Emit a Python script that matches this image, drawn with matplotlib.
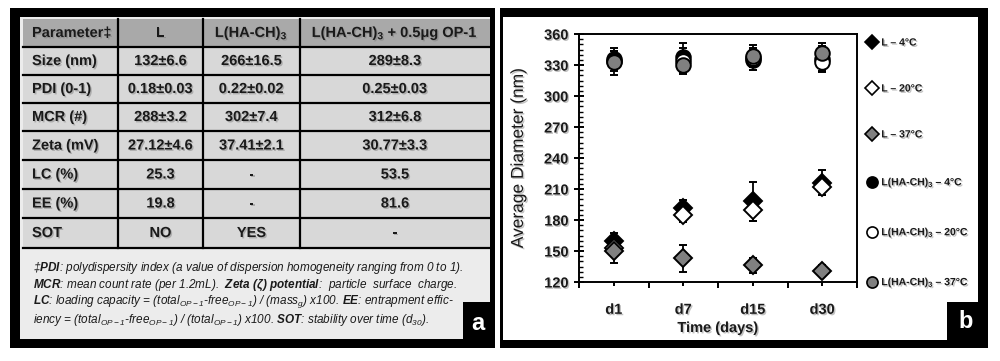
import matplotlib
matplotlib.use("Agg")
import matplotlib.pyplot as plt
from matplotlib.patches import Rectangle
from matplotlib.lines import Line2D
from matplotlib import font_manager
import matplotlib.ticker as mticker
import matplotlib.patheffects as pe

names = {f.name for f in font_manager.fontManager.ttflist}
SANS = 'Liberation Sans'
NARROW = 'Liberation Sans Narrow' if 'Liberation Sans Narrow' in names else SANS

plt.rcParams['font.family'] = [SANS, 'DejaVu Sans']
plt.rcParams['mathtext.fontset'] = 'custom'
plt.rcParams['mathtext.rm'] = SANS + ':bold'
plt.rcParams['mathtext.it'] = SANS + ':italic'
plt.rcParams['mathtext.bf'] = SANS + ':bold'
plt.rcParams['mathtext.bfit'] = NARROW + ':italic:bold'

SHADOW = [pe.withSimplePatchShadow(offset=(1, -1), shadow_rgbFace='#777777', alpha=0.45)]

# ---------------- table data (panel a) ----------------
headers = ["Parameter‡", "L", r"L(HA-CH)$_\mathrm{3}$", r"L(HA-CH)$_\mathrm{3}$ + 0.5μg OP-1"]
params = ["Size (nm)", "PDI (0-1)", "MCR (#)", "Zeta (mV)", "LC (%)", "EE (%)", "SOT"]
col_L = ["132±6.6", "0.18±0.03", "288±3.2", "27.12±4.6", "25.3", "19.8", "NO"]
col_HA = ["266±16.5", "0.22±0.02", "302±7.4", "37.41±2.1", "-", "-", "YES"]
col_OP = ["289±8.3", "0.25±0.03", "312±6.8", "30.77±3.3", "53.5", "81.6", "-"]
footnote = [
    r"‡$\mathbfit{PDI}$: polydispersity index (a value of dispersion homogeneity ranging from 0 to 1).",
    r"$\mathbfit{MCR}$: mean count rate (per 1.2mL).  $\mathbfit{Zeta\ (ζ)\ potential}$:  particle  surface  charge.",
    r"$\mathbfit{LC}$: loading capacity = (total$_\mathregular{OP-1}$-free$_\mathregular{OP-1}$) / (mass$_\mathregular{g}$) x100. $\mathbfit{EE}$: entrapment effic-",
    r"iency = (total$_\mathregular{OP-1}$-free$_\mathregular{OP-1}$) / (total$_\mathregular{OP-1}$) x100. $\mathbfit{SOT}$: stability over time (d$_\mathregular{30}$).",
]

# ---------------- chart data (panel b) ----------------
days = ["d1", "d7", "d15", "d30"]
series_labels = ["L – 4°C", "L – 20°C", "L – 37°C",
                 r"L(HA-CH)$_\mathrm{3}$ – 4°C", r"L(HA-CH)$_\mathrm{3}$ – 20°C",
                 r"L(HA-CH)$_\mathrm{3}$ – 37°C"]
L_4 = [160, 192, 198, 216]
L_20 = [153, 185, 190, 212]
L_37 = [150, 143, 136, 131]
HA_4 = [336, 338, 335, 336]
HA_20 = [334, 334, 337, 333]
HA_37 = [333, 330, 339, 342]
L_4_err = [7, 7, 19, 12]
L_20_err = [5, 7, 11, 8]
L_37_err = [12, 13, 7.5, 5]
HA_4_err = [8, 13, 10, 12]
HA_20_err = [10, 12, 9, 10]
HA_37_err = [13, 9, 10, 9]

fig = plt.figure(figsize=(10, 3.61), dpi=100)
bg = fig.add_axes([0, 0, 1, 1])
bg.set_xlim(0, 1000)
bg.set_ylim(361, 0)
bg.axis('off')

def rect(x0, y0, x1, y1, color, z=0):
    bg.add_patch(Rectangle((x0, y0), x1 - x0, y1 - y0, facecolor=color, edgecolor='none', zorder=z))

# Panel a frame
rect(10, 8, 495, 348, 'black', 0)
rect(20, 17, 490, 339, '#ececec', 1)
row_edges = [19, 47, 75, 103, 131, 160, 189, 218, 248]
col_edges = [23, 118, 203, 300, 490]
rect(23, row_edges[0], 490, row_edges[1], '#a9a9a9', 2)
rect(23, row_edges[1], 490, row_edges[-1], '#d8d8d8', 2)
for y in row_edges[1:]:
    bg.plot([23, 490], [y, y], color='black', lw=1.6, zorder=3)
for xv in col_edges[1:-1]:
    bg.plot([xv, xv], [row_edges[0], row_edges[-1]], color='black', lw=1.6, zorder=3)

tkw = dict(fontsize=10.5, fontweight='bold', color='#1a1a1a', va='center', zorder=4,
           path_effects=SHADOW)
cols = [params, col_L, col_HA, col_OP]
for ci in range(4):
    cx = (col_edges[ci] + col_edges[ci + 1]) / 2
    yc = (row_edges[0] + row_edges[1]) / 2
    if ci == 0:
        bg.text(col_edges[0] + 9, yc, headers[ci], ha='left', **tkw)
    else:
        bg.text(cx, yc, headers[ci], ha='center', **tkw)
    for ri, val in enumerate(cols[ci]):
        yc = (row_edges[ri + 1] + row_edges[ri + 2]) / 2
        if ci == 0:
            bg.text(col_edges[0] + 9, yc, val, ha='left', **tkw)
        else:
            bg.text(cx, yc, val, ha='center', **tkw)

foot_y = [268, 285, 302, 320]
for s, y in zip(footnote, foot_y):
    bg.text(33, y, s, ha='left', va='center', fontsize=8.5, fontstyle='italic',
            family=[NARROW, SANS], color='#1a1a1a', zorder=4)

rect(463, 302, 495, 348, 'black', 5)
bg.text(478, 323, 'a', color='white', fontsize=17, fontweight='bold', ha='center', va='center', zorder=6)

# Panel b frame
rect(500, 8, 988, 348, 'black', 0)
rect(503, 17, 978, 340, 'white', 1)
rect(947, 302, 988, 348, 'black', 5)
bg.text(966, 322, 'b', color='white', fontsize=17, fontweight='bold', ha='center', va='center', zorder=6)

# ---------------- chart ----------------
ax = fig.add_axes([0.579, (361 - 282) / 361, 0.278, 248 / 361])
x = list(range(1, len(days) + 1))
styles = [
    ('D', 'black'), ('D', 'white'), ('D', '#808080'),
    ('o', 'black'), ('o', 'white'), ('o', '#808080'),
]
means = [L_4, L_20, L_37, HA_4, HA_20, HA_37]
errs = [L_4_err, L_20_err, L_37_err, HA_4_err, HA_20_err, HA_37_err]
handles = []
for (m, fc), y, e, lab in zip(styles, means, errs, series_labels):
    ms = 9.5 if m == 'D' else 10.5
    ax.errorbar(x, y, yerr=e, fmt=m, ms=ms, mfc=fc, mec='black', mew=1.4,
                ecolor='black', elinewidth=1.3, capsize=3, capthick=1.3, zorder=3)
    handles.append(Line2D([], [], ls='none', marker=m, ms=7 if m == 'D' else 8,
                          mfc=fc, mec='black', mew=1.2))

ax.set_xlim(0.5, 4.5)
ax.set_ylim(120, 360)
ax.set_yticks(range(120, 361, 30))
ax.yaxis.set_minor_locator(mticker.MultipleLocator(5))
ax.set_xticks(x)
ax.set_xticklabels(days)
ax.xaxis.set_minor_locator(mticker.FixedLocator([0.5, 1.5, 2.5, 3.5, 4.5]))
ax.tick_params(axis='y', which='major', direction='inout', length=7, width=1.4, labelsize=10.5, pad=4)
ax.tick_params(axis='y', which='minor', direction='in', length=3, width=1)
ax.tick_params(axis='x', which='major', direction='out', length=3, width=1.4, labelsize=10.5, pad=12)
ax.tick_params(axis='x', which='minor', direction='out', length=4, width=1.4)
for lab in ax.get_xticklabels() + ax.get_yticklabels():
    lab.set_fontweight('bold')
    lab.set_color('#1a1a1a')
    lab.set_path_effects(SHADOW)
for sp in ax.spines.values():
    sp.set_linewidth(1.4)
ax.set_xlabel('Time (days)', fontsize=10.5, fontweight='bold', color='#1a1a1a', labelpad=3,
              path_effects=SHADOW)
ax.set_ylabel('Average Diameter (nm)', fontsize=12.5, color='#1a1a1a', labelpad=13,
              path_effects=SHADOW)

leg = ax.legend(handles, series_labels, loc='upper left', bbox_to_anchor=(1.035, 0.99),
                frameon=False, labelspacing=3.45, handlelength=0.8, handletextpad=0.5,
                borderaxespad=0, borderpad=0.1,
                prop={'family': [NARROW, SANS], 'weight': 'bold', 'size': 7.5})
for t in leg.get_texts():
    t.set_color('#1a1a1a')
    t.set_path_effects(SHADOW)

fig.savefig('out.png', dpi=100, facecolor='white')
